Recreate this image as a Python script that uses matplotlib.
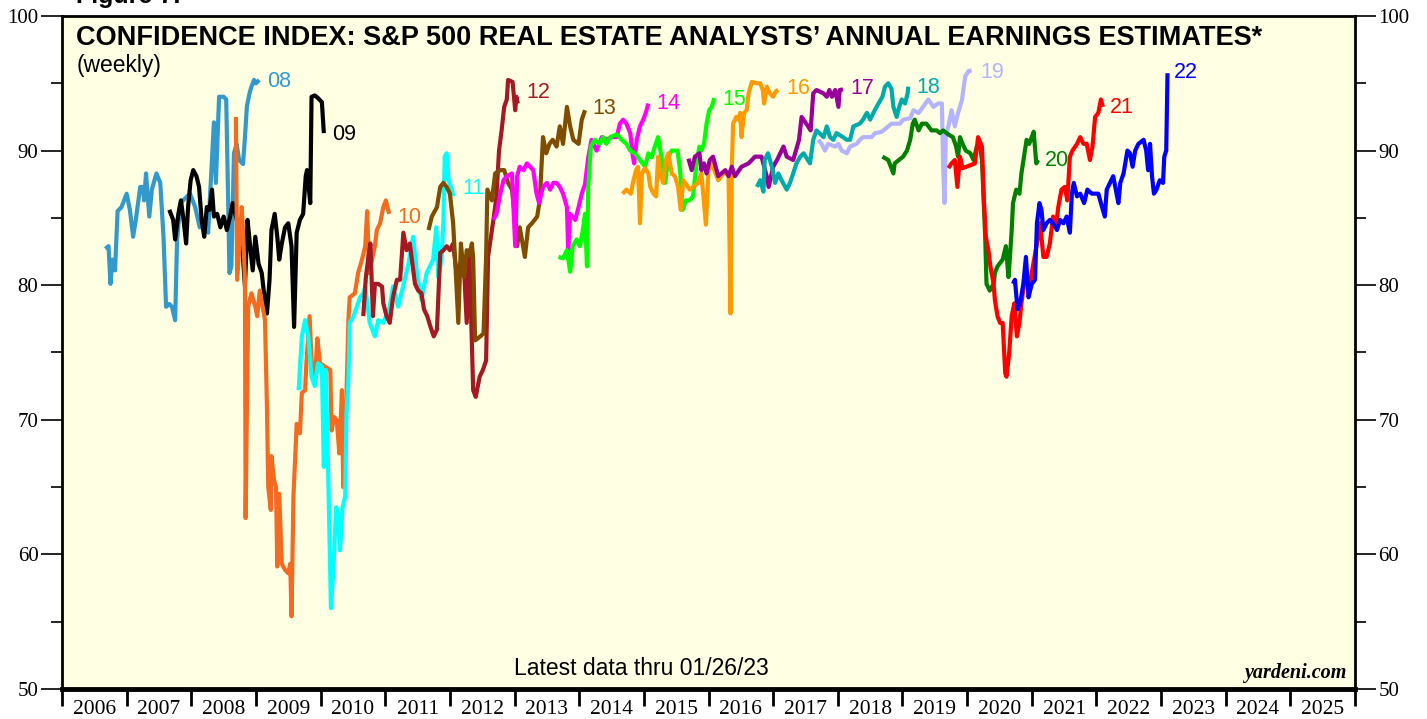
import matplotlib
matplotlib.use("Agg")
import matplotlib.pyplot as plt
from matplotlib.ticker import MultipleLocator, FixedLocator, NullFormatter

# ---------------- data (decimal year, confidence index) ----------------
x08 = [2006.67,2006.72,2006.75,2006.78,2006.82,2006.86,2006.92,2007.00,2007.05,2007.10,2007.14,2007.21,2007.25,2007.27,2007.30,2007.35,2007.39,2007.46,2007.52,2007.57,2007.61,2007.66,2007.70,2007.75,2007.78,2007.83,2007.98,2008.06,2008.13,2008.24,2008.26,2008.35,2008.38,2008.43,2008.50,2008.54,2008.57,2008.59,2008.62,2008.66,2008.70,2008.74,2008.80,2008.83,2008.86,2008.90,2008.93,2008.97,2009.00,2009.05]
y08 = [82.7,82.9,80.1,81.9,81.1,85.5,85.8,86.8,85.6,83.6,84.8,87.3,87.3,86.3,88.3,85.1,87.1,88.3,87.6,83.6,78.4,78.6,78.4,77.4,83.4,86.1,86.8,85.8,84.3,85.1,83.9,92.1,87.6,94.0,94.0,93.8,86.3,80.9,81.4,89.8,90.5,89.3,89.0,91.0,93.3,94.25,94.75,95.25,95.0,95.25]

x09 = [2007.66,2007.72,2007.75,2007.80,2007.84,2007.88,2007.92,2007.95,2007.99,2008.03,2008.08,2008.12,2008.16,2008.20,2008.24,2008.28,2008.32,2008.35,2008.40,2008.45,2008.50,2008.55,2008.60,2008.64,2008.68,2008.73,2008.78,2008.83,2008.87,2008.91,2008.95,2008.99,2009.04,2009.09,2009.12,2009.17,2009.21,2009.24,2009.29,2009.33,2009.36,2009.40,2009.45,2009.50,2009.55,2009.59,2009.63,2009.68,2009.73,2009.77,2009.79,2009.84,2009.86,2009.91,2009.96,2010.02,2010.05]
y09 = [85.6,84.85,83.4,85.3,86.3,84.85,83.1,85.8,87.8,88.55,88.1,87.3,84.85,83.6,85.8,85.6,87.1,85.1,85.3,84.3,85.1,84.1,85.1,86.1,85.3,84.3,83.4,79.9,84.85,82.9,81.1,83.6,81.6,80.9,79.6,77.9,80.4,84.1,85.3,83.6,81.9,83.1,84.3,84.6,82.9,76.9,83.9,84.85,85.3,88.1,88.55,86.1,94.0,94.1,93.9,93.6,91.3]

x10 = [2008.69,2008.71,2008.78,2008.80,2008.83,2008.84,2008.88,2008.93,2008.99,2009.02,2009.06,2009.14,2009.17,2009.19,2009.23,2009.24,2009.28,2009.31,2009.33,2009.36,2009.40,2009.45,2009.50,2009.53,2009.55,2009.58,2009.63,2009.68,2009.71,2009.76,2009.78,2009.83,2009.86,2009.91,2009.95,2009.99,2010.15,2010.17,2010.21,2010.25,2010.29,2010.33,2010.35,2010.39,2010.43,2010.45,2010.53,2010.58,2010.64,2010.69,2010.72,2010.75,2010.84,2010.87,2010.92,2010.97,2011.01,2011.06]
y10 = [92.5,80.4,85.8,84.0,80.4,62.7,78.4,79.4,78.4,77.7,79.6,77.4,71.0,65.0,63.3,67.3,65.5,65.0,59.1,64.5,59.3,58.85,58.6,59.3,55.4,64.3,69.7,69.0,72.0,72.2,74.2,77.7,74.4,73.0,76.05,74.2,73.7,69.2,70.2,70.0,67.5,72.2,65.0,70.0,77.4,79.1,79.4,80.9,81.9,82.9,85.5,80.9,82.9,84.1,84.6,85.8,86.3,85.3]

x11 = [2009.66,2009.71,2009.76,2009.81,2009.86,2009.91,2009.96,2010.02,2010.05,2010.08,2010.12,2010.16,2010.20,2010.24,2010.27,2010.30,2010.34,2010.38,2010.40,2010.43,2010.45,2010.51,2010.56,2010.61,2010.66,2010.69,2010.76,2010.84,2010.89,2010.97,2011.07,2011.12,2011.20,2011.25,2011.36,2011.43,2011.49,2011.56,2011.64,2011.69,2011.74,2011.79,2011.82,2011.87,2011.90,2011.92,2011.95,2011.98,2012.03,2012.05]
y11 = [72.2,76.2,77.4,76.2,73.2,72.5,74.2,73.95,66.5,73.7,65.5,56.0,59.1,63.5,63.05,60.3,63.5,64.3,70.5,73.0,77.2,77.7,78.4,79.1,79.4,79.9,77.2,76.2,77.4,77.2,78.4,79.9,78.4,79.4,81.6,83.6,80.9,78.9,80.9,81.4,81.9,84.3,80.6,81.9,84.85,89.55,89.8,87.8,87.1,86.6]

x12 = [2010.66,2010.70,2010.74,2010.77,2010.81,2010.84,2010.89,2010.95,2010.97,2011.02,2011.07,2011.12,2011.18,2011.23,2011.28,2011.33,2011.38,2011.46,2011.51,2011.56,2011.60,2011.65,2011.70,2011.75,2011.80,2011.85,2011.90,2011.95,2012.00,2012.05,2012.11,2012.16,2012.22,2012.26,2012.30,2012.36,2012.40,2012.46,2012.51,2012.56,2012.59,2012.65,2012.68,2012.72,2012.76,2012.80,2012.84,2012.88,2012.90,2012.97,2013.01,2013.03,2013.05]
y12 = [77.7,80.6,82.1,83.1,77.7,80.1,80.1,79.9,78.65,77.7,77.2,79.1,80.4,80.4,83.9,82.6,83.1,80.1,79.6,79.4,78.2,77.7,76.9,76.2,76.7,82.4,82.6,82.9,82.6,83.1,80.6,81.6,81.1,77.2,82.6,72.2,71.7,73.2,73.7,74.4,82.1,84.1,85.1,86.6,90.0,91.5,93.25,93.8,95.25,95.1,93.0,94.0,93.5]

x13 = [2011.67,2011.72,2011.80,2011.85,2011.90,2011.95,2012.00,2012.05,2012.09,2012.13,2012.17,2012.22,2012.26,2012.30,2012.34,2012.36,2012.39,2012.47,2012.52,2012.56,2012.58,2012.65,2012.70,2012.78,2012.84,2012.90,2012.96,2013.01,2013.04,2013.08,2013.16,2013.21,2013.27,2013.35,2013.39,2013.44,2013.49,2013.54,2013.59,2013.65,2013.70,2013.75,2013.81,2013.86,2013.91,2013.99,2014.04,2014.09]
y13 = [84.1,85.1,85.8,87.3,87.6,87.3,86.8,84.6,81.1,77.2,83.1,80.6,82.6,82.2,83.1,82.0,75.9,76.2,76.4,82.1,87.1,86.3,88.3,88.55,88.55,87.6,87.1,84.85,82.9,84.3,82.1,84.3,84.6,85.1,86.3,91.0,89.8,90.5,90.8,90.3,91.8,90.5,93.25,91.8,90.8,90.5,92.3,93.0]

x14 = [2012.67,2012.72,2012.78,2012.83,2012.88,2012.96,2013.01,2013.04,2013.08,2013.14,2013.19,2013.24,2013.29,2013.34,2013.38,2013.44,2013.50,2013.55,2013.60,2013.65,2013.70,2013.75,2013.81,2013.83,2013.86,2013.94,2013.99,2014.04,2014.09,2014.14,2014.19,2014.27,2014.35,2014.43,2014.50,2014.58,2014.63,2014.68,2014.73,2014.79,2014.83,2014.85,2014.89,2014.94,2014.99,2015.03,2015.07]
y14 = [84.85,85.3,86.8,87.8,88.1,88.3,82.9,88.1,88.8,88.55,89.05,88.8,88.55,86.8,86.1,87.3,87.6,87.1,87.6,87.6,87.3,86.8,85.8,82.6,85.3,84.85,85.8,86.8,87.5,89.5,90.8,90.0,91.0,90.8,91.0,91.0,92.0,92.3,92.0,91.3,89.55,89.05,90.8,91.8,92.3,92.8,93.5]

x15 = [2013.68,2013.75,2013.81,2013.86,2013.90,2013.96,2014.01,2014.05,2014.09,2014.12,2014.14,2014.18,2014.24,2014.32,2014.37,2014.42,2014.48,2014.58,2014.66,2014.73,2014.79,2014.86,2014.94,2015.02,2015.07,2015.12,2015.17,2015.22,2015.28,2015.33,2015.38,2015.43,2015.52,2015.56,2015.60,2015.65,2015.71,2015.76,2015.82,2015.86,2015.89,2015.93,2015.97,2016.01,2016.05,2016.09]
y15 = [82.1,82.0,82.6,81.0,82.9,83.4,82.9,83.9,85.3,81.4,87.3,90.3,90.8,90.5,91.0,90.5,91.0,91.2,90.8,90.5,90.0,89.8,89.3,88.8,89.8,89.5,90.3,91.0,89.3,87.6,89.55,90.0,90.0,88.55,85.6,86.3,86.3,86.6,89.3,90.3,90.0,90.5,92.0,93.0,93.25,93.9]

x16 = [2014.67,2014.73,2014.80,2014.83,2014.88,2014.91,2014.94,2014.97,2015.02,2015.07,2015.10,2015.15,2015.19,2015.22,2015.25,2015.30,2015.34,2015.38,2015.43,2015.48,2015.53,2015.57,2015.61,2015.71,2015.84,2015.89,2015.96,2016.00,2016.05,2016.15,2016.23,2016.31,2016.34,2016.36,2016.38,2016.43,2016.46,2016.49,2016.51,2016.55,2016.59,2016.62,2016.67,2016.75,2016.80,2016.84,2016.86,2016.90,2016.95,2017.00,2017.04,2017.08]
y16 = [86.8,87.1,86.8,87.6,88.55,88.8,84.6,88.3,88.7,88.3,87.3,86.8,86.6,89.55,88.3,87.6,89.3,89.8,88.3,88.1,87.3,85.6,87.8,87.1,87.6,88.3,84.5,88.55,89.05,87.8,88.3,88.3,77.9,88.55,92.0,92.5,92.3,92.8,91.0,92.8,93.0,94.25,95.1,95.0,95.0,94.5,93.5,94.75,94.25,94.0,94.4,94.5]

x17 = [2015.69,2015.74,2015.79,2015.86,2015.89,2015.93,2015.97,2016.02,2016.07,2016.15,2016.20,2016.26,2016.31,2016.36,2016.41,2016.51,2016.62,2016.67,2016.72,2016.82,2016.90,2016.93,2017.00,2017.06,2017.16,2017.21,2017.31,2017.40,2017.44,2017.49,2017.54,2017.58,2017.62,2017.67,2017.78,2017.83,2017.87,2017.91,2017.96,2018.01,2018.03,2018.08]
y17 = [89.4,88.55,89.55,89.8,88.55,89.05,88.3,89.3,89.55,88.1,88.3,88.55,88.1,88.8,88.1,88.8,89.05,89.3,89.55,89.55,88.1,87.3,88.8,89.3,90.3,89.55,89.3,90.8,92.5,92.15,91.8,91.5,94.25,94.5,94.25,94.0,94.5,94.0,94.5,93.25,94.5,94.55]

x18 = [2016.75,2016.80,2016.85,2016.87,2016.92,2016.98,2017.03,2017.08,2017.13,2017.21,2017.26,2017.31,2017.36,2017.42,2017.47,2017.57,2017.62,2017.67,2017.78,2017.83,2017.88,2017.93,2017.98,2018.08,2018.14,2018.19,2018.24,2018.34,2018.39,2018.45,2018.50,2018.55,2018.60,2018.69,2018.73,2018.78,2018.83,2018.86,2018.91,2018.95,2018.99,2019.04,2019.08,2019.09]
y18 = [87.3,87.8,86.95,89.3,89.8,88.8,87.6,88.3,87.8,87.1,87.6,88.3,89.05,89.55,89.8,89.05,90.8,91.5,91.0,91.8,91.0,90.8,91.3,91.0,90.8,90.8,91.8,92.0,92.3,92.8,92.3,92.8,93.25,94.0,94.75,95.0,94.6,93.25,92.5,93.25,93.8,93.5,94.25,94.75]

x19 = [2017.70,2017.75,2017.80,2017.85,2017.96,2018.01,2018.06,2018.14,2018.19,2018.29,2018.34,2018.39,2018.52,2018.58,2018.68,2018.78,2018.83,2018.96,2019.01,2019.12,2019.17,2019.25,2019.32,2019.40,2019.48,2019.55,2019.61,2019.63,2019.65,2019.67,2019.71,2019.76,2019.81,2019.86,2019.92,2019.97,2020.02,2020.07]
y19 = [90.8,90.5,90.0,90.5,90.3,90.5,90.0,89.8,90.3,90.5,90.8,91.0,91.0,91.3,91.4,91.8,92.0,92.0,92.3,92.4,93.0,92.8,93.25,93.8,93.25,93.5,93.5,88.8,86.1,91.0,91.8,93.0,91.8,92.8,93.75,95.5,95.9,95.95]

x20 = [2018.69,2018.78,2018.86,2018.88,2019.01,2019.07,2019.12,2019.16,2019.19,2019.25,2019.30,2019.37,2019.45,2019.53,2019.58,2019.63,2019.71,2019.78,2019.83,2019.86,2019.89,2019.93,2019.98,2020.05,2020.10,2020.15,2020.20,2020.23,2020.28,2020.30,2020.35,2020.41,2020.43,2020.47,2020.55,2020.60,2020.64,2020.66,2020.69,2020.71,2020.76,2020.81,2020.84,2020.88,2020.92,2020.96,2021.00,2021.03,2021.07,2021.10]
y20 = [89.55,89.3,88.3,89.05,89.55,90.0,90.8,92.0,92.3,91.5,92.0,92.0,91.5,91.5,91.3,91.5,91.2,91.0,90.3,89.55,91.0,90.5,90.0,89.8,89.3,90.3,90.3,89.3,83.6,80.1,79.6,80.1,80.9,81.4,81.9,82.9,80.6,81.9,84.1,86.1,87.1,86.8,88.3,89.55,90.8,90.5,91.0,91.4,89.05,89.3]

x21 = [2019.71,2019.76,2019.81,2019.85,2019.89,2019.93,2019.99,2020.12,2020.17,2020.23,2020.26,2020.29,2020.33,2020.36,2020.41,2020.43,2020.47,2020.51,2020.55,2020.59,2020.61,2020.65,2020.69,2020.73,2020.77,2020.81,2020.84,2020.88,2020.97,2021.08,2021.13,2021.18,2021.23,2021.28,2021.33,2021.38,2021.41,2021.46,2021.51,2021.55,2021.59,2021.63,2021.70,2021.75,2021.80,2021.85,2021.90,2021.94,2021.98,2022.03,2022.07,2022.10]
y21 = [88.7,89.05,89.3,87.3,89.55,88.7,88.8,89.05,91.0,90.3,86.3,83.6,82.6,81.4,80.1,78.9,77.7,77.2,77.2,73.45,73.2,74.9,77.7,78.65,76.2,77.2,78.65,80.1,80.1,83.1,84.6,82.1,82.1,83.1,85.1,84.6,85.8,87.1,87.3,86.3,89.55,90.0,90.5,91.0,90.5,90.5,89.3,90.3,92.5,92.8,93.8,93.25]

x22 = [2020.71,2020.74,2020.78,2020.82,2020.87,2020.91,2020.95,2021.00,2021.05,2021.08,2021.12,2021.15,2021.18,2021.23,2021.28,2021.33,2021.39,2021.44,2021.49,2021.54,2021.59,2021.62,2021.65,2021.70,2021.75,2021.81,2021.86,2021.93,2021.98,2022.03,2022.07,2022.13,2022.16,2022.21,2022.26,2022.30,2022.34,2022.37,2022.42,2022.48,2022.52,2022.56,2022.60,2022.65,2022.73,2022.77,2022.80,2022.83,2022.86,2022.89,2022.93,2022.98,2023.03,2023.05,2023.08,2023.10]
y22 = [80.1,80.4,78.2,78.65,80.1,82.1,79.1,80.1,80.4,84.6,86.1,85.6,84.1,84.6,84.85,84.6,84.1,84.85,84.6,85.1,83.9,86.8,87.6,86.6,86.8,86.1,87.1,86.8,86.8,86.8,86.1,85.1,87.1,87.6,88.1,87.1,86.1,87.6,88.3,90.0,89.8,88.8,90.0,90.5,90.8,90.0,88.55,90.5,88.1,86.8,87.1,87.8,87.6,89.55,90.0,95.75]

series_names = ["08","09","10","11","12","13","14","15","16","17","18","19","20","21","22"]
series_x = [x08,x09,x10,x11,x12,x13,x14,x15,x16,x17,x18,x19,x20,x21,x22]
series_y = [y08,y09,y10,y11,y12,y13,y14,y15,y16,y17,y18,y19,y20,y21,y22]
colors = ["#3399CC","#000000","#F26B21","#00FFFF","#A31A22","#7F4C00","#FF00FF","#00FF00",
          "#FF9900","#990099","#00AAAA","#B3B3FF","#007F00","#FF0000","#0000FF"]
# label positions (decimal year, value)
label_x = [2009.17,2010.18,2011.18,2012.19,2013.19,2014.20,2015.20,2016.21,2017.21,2018.20,2019.21,2020.21,2021.20,2022.21,2023.20]
label_y = [95.1,91.2,85.0,87.2,94.3,93.1,93.5,93.8,94.6,94.6,94.7,95.8,89.3,93.2,95.8]

years = list(range(2006, 2026))

# ---------------- figure ----------------
fig = plt.figure(figsize=(14.27, 7.19), dpi=100)
ax = fig.add_axes([62/1427, 1-689/719, (1355-62)/1427, (689-16)/719])
ax.set_facecolor("#FFFFE4")

for xs, ys, c in zip(series_x, series_y, colors):
    ax.plot(xs, ys, color=c, lw=3.0, solid_joinstyle="round", solid_capstyle="butt")

for name, lx, ly, c in zip(series_names, label_x, label_y, colors):
    ax.text(lx, ly, name, color=c, fontsize=15.5, family="Liberation Sans",
            ha="left", va="center")

ax.set_xlim(2006, 2026)
ax.set_ylim(50, 100)

# y axis ticks both sides
ax.yaxis.set_major_locator(MultipleLocator(10))
ax.yaxis.set_minor_locator(MultipleLocator(5))
ax.tick_params(axis="y", which="major", direction="out", length=15, width=1.2,
               left=True, right=True, labelleft=True, labelright=True,
               labelsize=15, pad=2)
ax.tick_params(axis="y", which="minor", direction="out", length=8, width=1.2,
               left=True, right=True)
for lab in ax.get_yticklabels():
    lab.set_family("Liberation Serif")

# x axis: ticks at year boundaries, labels at mid-year
ax.xaxis.set_major_locator(FixedLocator(years + [2026]))
ax.xaxis.set_major_formatter(NullFormatter())
ax.xaxis.set_minor_locator(FixedLocator([y + 0.5 for y in years]))
ax.set_xticklabels([str(y) for y in years], minor=True)
ax.tick_params(axis="x", which="major", direction="out", length=12, width=2)
ax.tick_params(axis="x", which="minor", length=0, labelsize=15.5, pad=8)
for lab in ax.get_xticklabels(minor=True):
    lab.set_family("Liberation Serif")

for side in ["left", "right", "top"]:
    ax.spines[side].set_linewidth(2)
ax.spines["bottom"].set_linewidth(3.5)

# texts
ax.text(0.011, 0.987, "CONFIDENCE INDEX: S&P 500 REAL ESTATE ANALYSTS\u2019 ANNUAL EARNINGS ESTIMATES*",
        transform=ax.transAxes, fontsize=19.5, fontweight="bold", family="Liberation Sans",
        ha="left", va="top")
ax.text(0.011, 0.926, "(weekly)", transform=ax.transAxes, fontsize=16.5,
        family="Liberation Sans", ha="left", va="center")
ax.text(0.448, 0.03, "Latest data thru 01/26/23", transform=ax.transAxes, fontsize=16.5,
        family="Liberation Sans", ha="center", va="center")
ax.text(0.993, 0.024, "yardeni.com", transform=ax.transAxes, fontsize=14.5,
        family="Liberation Serif", fontweight="bold", style="italic", ha="right", va="center")
fig.text(0.053, 1.006, "Figure 7.", fontsize=18, fontweight="bold",
         family="Liberation Sans", ha="left", va="center")

fig.savefig("out.png", dpi=100)
